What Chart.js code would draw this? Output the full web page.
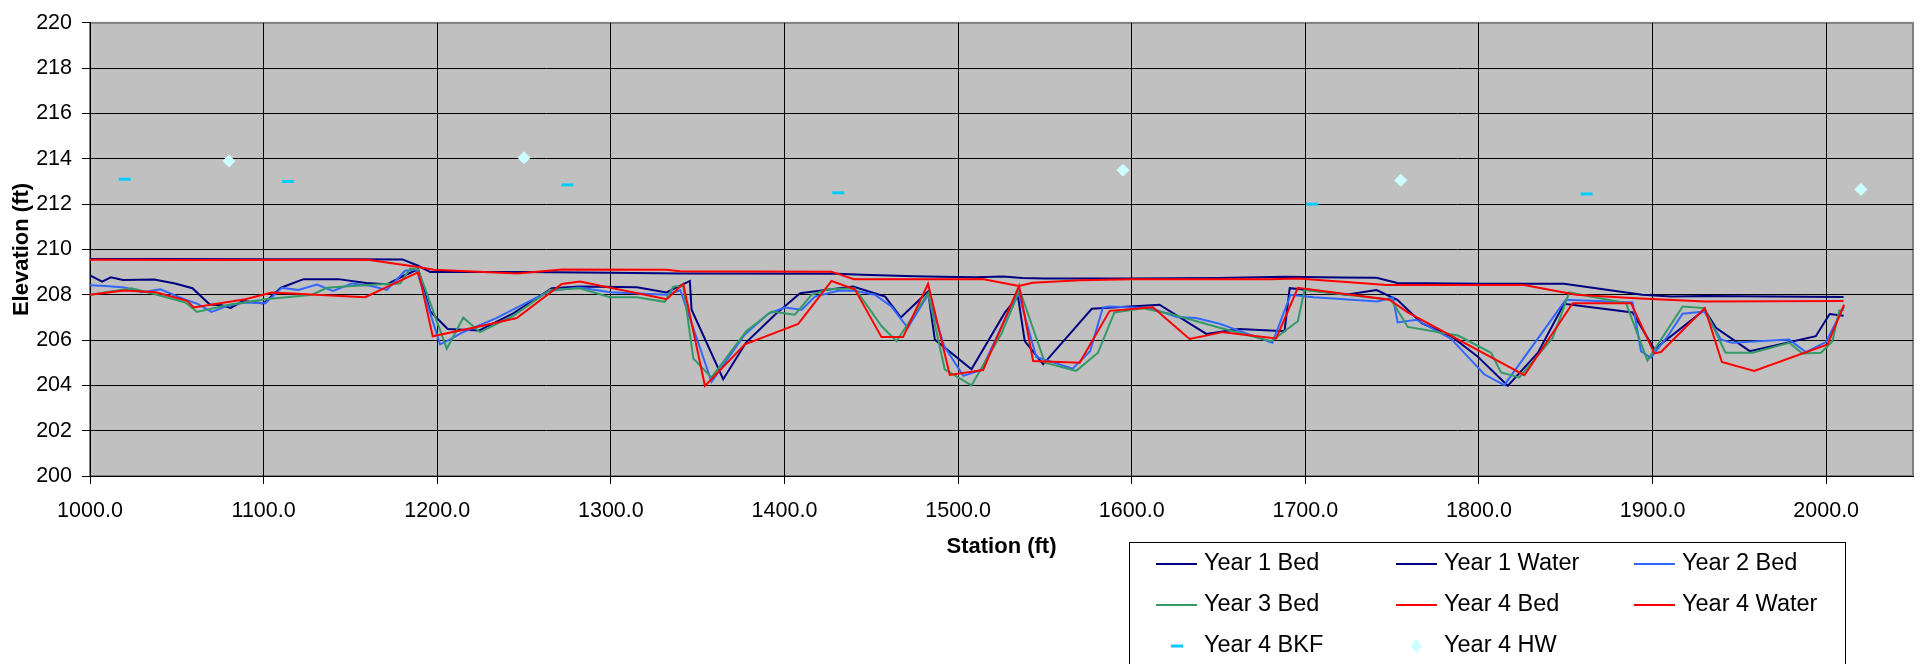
<!DOCTYPE html>
<html>
<head>
<meta charset="utf-8">
<script src="https://cdn.jsdelivr.net/npm/chart.js@4.4.0/dist/chart.umd.min.js"></script>
<style>
  html, body { margin: 0; padding: 0; background: #fff; }
  #wrap { width: 1925px; height: 664px; }
</style>
</head>
<body>
<div id="wrap"><canvas id="profile" width="1925" height="664"></canvas></div>
<script>
// [station (ft), elevation (ft)]
const year1Bed = [
    [1000, 208.85], [1007, 208.58], [1012, 208.77], [1019, 208.65], [1037, 208.67], [1049, 208.5],
    [1059, 208.29], [1069, 207.57], [1076, 207.54], [1081, 207.42], [1088, 207.72], [1100, 207.62],
    [1110, 208.31], [1123, 208.69], [1143, 208.69], [1159, 208.52], [1171, 208.46], [1181, 208.85],
    [1189, 209.12], [1196, 207.26], [1206, 206.49], [1224, 206.42], [1244, 207.19], [1266, 208.29],
    [1282, 208.36], [1315, 208.33], [1332, 208.1], [1345.5, 208.61], [1346.5, 207.34], [1364.7, 204.27],
    [1378, 205.9], [1394.5, 207.12], [1409, 208.07], [1427, 208.24], [1439.5, 208.36], [1458, 207.92],
    [1467, 207.0], [1482.7, 208.14], [1486.6, 206.02], [1507.7, 204.71], [1527, 207.22], [1534.5, 207.92],
    [1538.4, 205.95], [1549, 204.93], [1577, 207.38], [1616, 207.56], [1643, 206.27], [1662, 206.49],
    [1688, 206.39], [1691, 208.29], [1702, 208.21], [1723.5, 208.0], [1741, 208.21], [1753, 207.78],
    [1767, 206.75], [1784, 206.17], [1799, 205.29], [1816.6, 203.98], [1834, 205.44], [1849, 207.6],
    [1888.5, 207.22], [1901, 205.59], [1930, 207.34], [1936.5, 206.54], [1956, 205.51], [1994, 206.17],
    [2002, 207.15], [2010, 207.07]
];
const year1Water = [
    [1000, 209.58], [1040, 209.58], [1100, 209.57], [1150, 209.57], [1180, 209.56], [1189, 209.28],
    [1196, 209.0], [1250, 209.0], [1300, 208.97], [1340, 208.94], [1430, 208.93], [1445, 208.88],
    [1475, 208.82], [1490, 208.8], [1510, 208.77], [1526, 208.81], [1537, 208.74], [1550, 208.72],
    [1600, 208.72], [1650, 208.74], [1688, 208.8], [1720, 208.76], [1741, 208.75], [1753, 208.52],
    [1800, 208.49], [1849, 208.49], [1894, 208.0], [1911, 207.92], [1930, 207.95], [2010, 207.9]
];
const year2Bed = [
    [1000, 208.42], [1009, 208.39], [1020, 208.32], [1030, 208.11], [1040.5, 208.24], [1055, 207.78],
    [1062, 207.6], [1070, 207.24], [1080, 207.53], [1089, 207.66], [1101, 207.63], [1110.5, 208.31],
    [1120, 208.21], [1130.6, 208.45], [1140, 208.17], [1151, 208.5], [1162, 208.39], [1171, 208.21],
    [1181.5, 209.06], [1188, 209.12], [1201.6, 205.81], [1208, 206.05], [1214, 206.32], [1234, 206.97],
    [1265, 208.18], [1282, 208.32], [1299.5, 208.11], [1332, 208.0], [1340, 208.2], [1358, 204.16],
    [1377, 206.24], [1390.6, 207.16], [1400, 207.44], [1410, 207.34], [1417.5, 207.92], [1431, 208.18],
    [1440.5, 208.18], [1452, 208.0], [1461.6, 207.48], [1471, 206.54], [1482.7, 208.0], [1492, 205.73],
    [1503, 204.42], [1513.4, 204.68], [1534.5, 208.14], [1545, 205.25], [1566, 204.74], [1576, 205.51],
    [1583.4, 207.44], [1587.3, 207.48], [1611, 207.41], [1626, 207.02], [1637, 206.97], [1650.6, 206.72],
    [1660, 206.46], [1681, 205.88], [1691.5, 208.0], [1705, 207.89], [1741.7, 207.7], [1750.4, 207.89],
    [1753.2, 206.78], [1764, 206.9], [1784, 206.05], [1803, 204.49], [1814.6, 204.01], [1849.2, 207.7],
    [1850.1, 207.78], [1888.5, 207.66], [1893.3, 205.51], [1899, 205.22], [1908.7, 206.17], [1917.3, 207.16],
    [1929.8, 207.26], [1939.4, 206.02], [1946, 205.88], [1978.7, 206.02], [1988.3, 205.47], [1999.8, 205.91],
    [2010.3, 207.48]
];
const year3Bed = [
    [1000, 208.0], [1024, 208.29], [1038.6, 208.0], [1055, 207.66], [1061.6, 207.24], [1080, 207.56],
    [1101, 207.8], [1128, 208.0], [1136.4, 208.31], [1151, 208.39], [1170, 208.48], [1178.6, 208.5],
    [1184.4, 209.16], [1189, 209.12], [1205.5, 205.62], [1215, 206.99], [1224.7, 206.35], [1244, 207.08],
    [1265, 208.21], [1282, 208.29], [1299.5, 207.89], [1315, 207.89], [1331, 207.69], [1336, 208.36],
    [1341.7, 208.39], [1347.5, 205.18], [1358, 204.35], [1378, 206.39], [1392.5, 207.26], [1406, 207.12],
    [1415.6, 208.0], [1425, 208.24], [1440.5, 208.29], [1456, 206.61], [1464.5, 205.95], [1482.7, 208.07],
    [1492.3, 204.71], [1507.7, 204.0], [1525, 206.29], [1535.5, 208.21], [1550, 205.0], [1568, 204.64],
    [1580.6, 205.44], [1590, 207.22], [1606.5, 207.4], [1622, 207.16], [1650.6, 206.54], [1680.3, 205.95],
    [1695.7, 206.83], [1699.5, 208.21], [1749.4, 207.78], [1759, 206.58], [1788, 206.2], [1807, 205.44],
    [1812.7, 204.57], [1823.3, 204.35], [1842.5, 206.1], [1852, 208.1], [1884.7, 207.63], [1897, 205.1],
    [1917.3, 207.48], [1929.8, 207.41], [1942, 205.44], [1957.6, 205.44], [1978.7, 205.88], [1986.4, 205.41],
    [1997, 205.44], [2003.6, 205.95], [2007.5, 207.3], [2010.3, 207.35]
];
const year4Bed = [
    [1000, 208.0], [1019.4, 208.19], [1038, 208.11], [1056, 207.73], [1059.7, 207.44], [1089.4, 207.8],
    [1104.7, 208.1], [1158.5, 207.89], [1189.2, 209.0], [1197.4, 206.17], [1224.7, 206.61], [1245.8, 206.97],
    [1271.7, 208.48], [1282.2, 208.58], [1332.1, 207.8], [1341.7, 208.48], [1354.2, 203.98], [1377.2, 205.81],
    [1407.9, 206.71], [1427.1, 208.61], [1440.5, 208.24], [1455.9, 206.13], [1468.3, 206.13], [1482.7, 208.48],
    [1495.2, 204.46], [1514.4, 204.68], [1535.1, 208.39], [1543.2, 205.08], [1570, 205.0], [1587.3, 207.29],
    [1612.2, 207.45], [1633.3, 206.05], [1652.5, 206.35], [1683.2, 206.07], [1695.7, 208.31], [1748.4, 207.78],
    [1759, 207.22], [1826.2, 204.45], [1854, 207.63], [1887.6, 207.63], [1901, 205.41], [1904.8, 205.47],
    [1930.1, 207.41], [1939.9, 205.03], [1958.5, 204.64], [2000.8, 205.81], [2010.3, 207.56]
];
const year4Water = [
    [1000, 209.55], [1060, 209.53], [1160, 209.55], [1189, 209.23], [1198, 209.1], [1246, 208.94],
    [1272, 209.12], [1332, 209.1], [1340, 209.04], [1427, 209.02], [1440, 208.69], [1510, 208.68],
    [1514, 208.7], [1535, 208.39], [1543, 208.53], [1570, 208.64], [1600, 208.68], [1680, 208.68],
    [1696, 208.72], [1747, 208.43], [1826, 208.43], [1856, 208.0], [1890, 207.85], [1930, 207.7],
    [2010, 207.73]
];
const year4Bkf = [
    [1020, 213.1], [1114, 213.0], [1275, 212.85], [1431, 212.5], [1704, 212.0], [1862, 212.45]
];
const year4Hw = [
    [1080, 213.9], [1250, 214.05], [1595, 213.5], [1755, 213.05], [2020, 212.65]
];

const stationTicks = [1000, 1100, 1200, 1300, 1400, 1500, 1600, 1700, 1800, 1900, 2000];
const elevationTicks = [200, 202, 204, 206, 208, 210, 212, 214, 216, 218, 220];

const seriesNames = ['Year 1 Bed', 'Year 1 Water', 'Year 2 Bed', 'Year 3 Bed', 'Year 4 Bed', 'Year 4 Water', 'Year 4 BKF', 'Year 4 HW'];
const seriesColors = ['#000080', '#000080', '#3366FF', '#339966', '#FF0000', '#FF0000', '#00CCFF', '#CCFFFF'];

const FONT = '"Liberation Sans", Arial, sans-serif';
const toPoints = pairs => pairs.map(([x, y]) => ({ x, y }));

// line series, later years drawn on top (lower order = drawn last)
const lineSeries = [year1Bed, year1Water, year2Bed, year3Bed, year4Bed, year4Water];
const datasets = lineSeries.map((pairs, i) => ({
    label: seriesNames[i],
    data: toPoints(pairs),
    showLine: true,
    borderColor: seriesColors[i],
    backgroundColor: seriesColors[i],
    borderWidth: 2,
    pointRadius: 0,
    tension: 0,
    fill: false,
    order: 10 - i,
}));

datasets.push({
    label: seriesNames[6],
    data: toPoints(year4Bkf),
    showLine: false,
    pointStyle: 'line',
    pointRadius: 6,
    pointBorderWidth: 3,
    pointBorderColor: seriesColors[6],
    borderColor: seriesColors[6],
    order: 2,
});
datasets.push({
    label: seriesNames[7],
    data: toPoints(year4Hw),
    showLine: false,
    pointStyle: 'rectRot',
    pointRadius: 6,
    pointBorderWidth: 1,
    pointBackgroundColor: seriesColors[7],
    pointBorderColor: seriesColors[7],
    borderColor: seriesColors[7],
    order: 1,
});

// grey plot area with a grey frame, like the spreadsheet original
const plotFrame = {
    id: 'plotFrame',
    beforeDraw(chart) {
        const { ctx, chartArea: a } = chart;
        ctx.save();
        ctx.fillStyle = '#C0C0C0';
        ctx.fillRect(a.left, a.top, a.right - a.left, a.bottom - a.top);
        ctx.strokeStyle = '#808080';
        ctx.lineWidth = 2;
        ctx.strokeRect(a.left, a.top, a.right - a.left, a.bottom - a.top);
        ctx.restore();
    }
};

// boxed legend in three columns, lower right
const boxLegend = {
    id: 'boxLegend',
    afterDraw(chart) {
        const { ctx } = chart;
        const colX = [1156, 1396, 1634];
        const rowY = [564, 605, 646];
        ctx.save();
        ctx.strokeStyle = '#000';
        ctx.lineWidth = 1;
        ctx.strokeRect(1129.5, 542.5, 716, 200);
        ctx.font = '23.5px ' + FONT;
        ctx.textBaseline = 'middle';
        chart.data.datasets.forEach((ds, i) => {
            const x = colX[i % 3];
            const y = rowY[Math.floor(i / 3)];
            if (ds.showLine) {
                ctx.strokeStyle = ds.borderColor;
                ctx.lineWidth = 2;
                ctx.beginPath();
                ctx.moveTo(x, y);
                ctx.lineTo(x + 41, y);
                ctx.stroke();
            } else if (ds.pointStyle === 'line') {
                ctx.fillStyle = ds.pointBorderColor;
                ctx.fillRect(x + 15, y - 1.5, 12, 3);
            } else {
                ctx.fillStyle = ds.pointBackgroundColor;
                ctx.beginPath();
                ctx.moveTo(x + 20.5, y - 7);
                ctx.lineTo(x + 26, y);
                ctx.lineTo(x + 20.5, y + 7);
                ctx.lineTo(x + 15, y);
                ctx.closePath();
                ctx.fill();
            }
            ctx.fillStyle = '#000';
            ctx.fillText(ds.label, x + 48, y);
        });
        ctx.restore();
    }
};

const ctx = document.getElementById('profile').getContext('2d');
new Chart(ctx, {
    type: 'scatter',
    data: { datasets },
    options: {
        responsive: false,
        animation: false,
        devicePixelRatio: 1,
        layout: { padding: { top: 19, right: 12, bottom: 0, left: 0 } },
        plugins: {
            legend: { display: false },
            tooltip: { enabled: false },
        },
        scales: {
            x: {
                type: 'linear',
                position: 'bottom',
                min: 1000,
                max: 2050,
                afterBuildTicks: scale => { scale.ticks = stationTicks.map(v => ({ value: v })); },
                afterFit: scale => { scale.height = 188; },
                ticks: {
                    callback: v => v.toFixed(1),
                    color: '#000',
                    font: { family: FONT, size: 21.5 },
                    padding: 14,
                    maxRotation: 0,
                    autoSkip: false,
                },
                grid: { color: '#000', lineWidth: 1, tickLength: 8, tickColor: '#000' },
                border: { color: '#000', width: 1 },
                title: {
                    display: true,
                    text: 'Station (ft)',
                    color: '#000',
                    font: { family: FONT, size: 22, weight: 'bold' },
                    padding: { top: 0, bottom: 104 },
                },
            },
            y: {
                min: 200,
                max: 220,
                afterBuildTicks: scale => { scale.ticks = elevationTicks.map(v => ({ value: v })); },
                afterFit: scale => { scale.width = 90; },
                ticks: {
                    callback: v => String(v),
                    color: '#000',
                    font: { family: FONT, size: 21.5 },
                    padding: 10,
                },
                grid: {
                    color: c => (c.tick && c.tick.value === 220 ? 'rgba(0,0,0,0)' : '#000'),
                    lineWidth: 1,
                    tickLength: 8,
                    tickColor: '#000',
                },
                border: { color: '#000', width: 1 },
                title: {
                    display: true,
                    text: 'Elevation (ft)',
                    color: '#000',
                    font: { family: FONT, size: 22, weight: 'bold' },
                    padding: { top: 9, bottom: 0 },
                },
            },
        },
    },
    plugins: [plotFrame, boxLegend],
});
</script>
</body>
</html>
